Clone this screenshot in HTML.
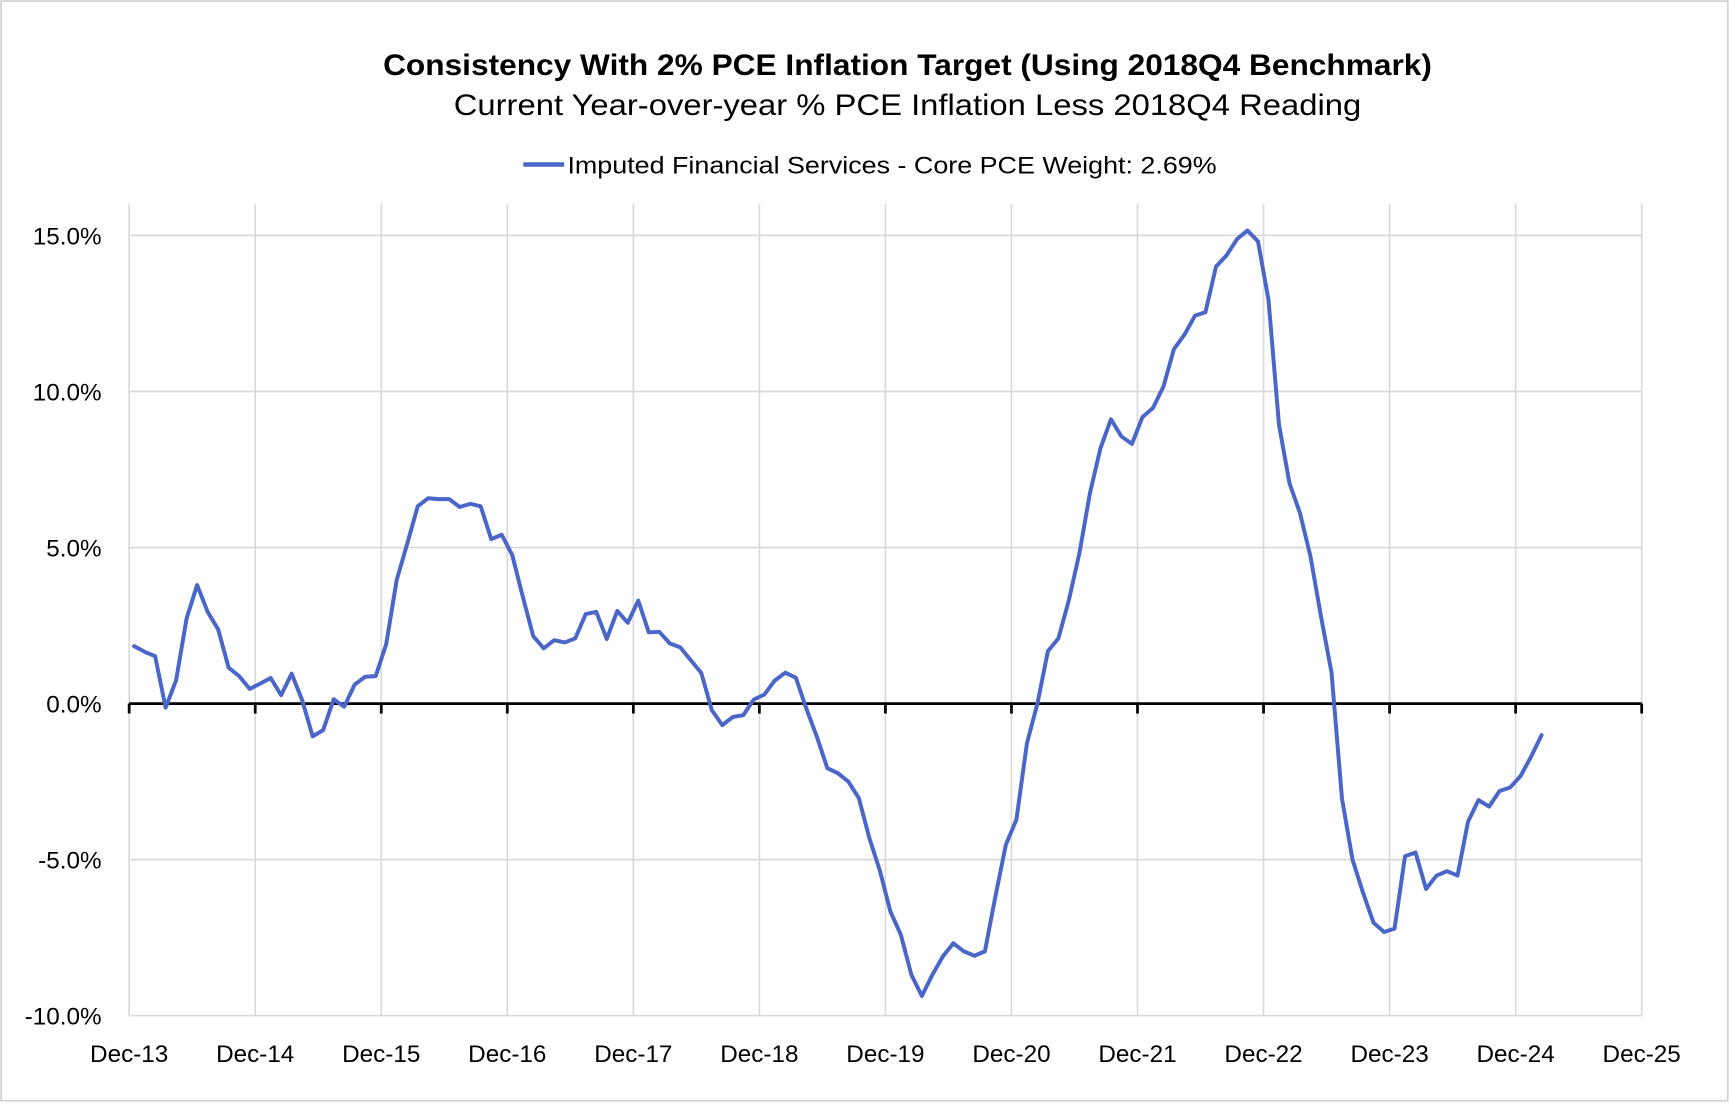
<!DOCTYPE html>
<html><head><meta charset="utf-8"><style>
html,body{margin:0;padding:0;background:#fff;}
svg{display:block;}
text{font-family:"Liberation Sans",sans-serif;fill:#000;}
</style></head><body>
<svg id="chart" width="1730" height="1104" viewBox="0 0 1567 1000" preserveAspectRatio="none" xmlns="http://www.w3.org/2000/svg">
<rect x="1" y="1" width="1564" height="996" fill="#fff" stroke="#d0d0d0" stroke-width="1.5"/>
<text x="822" y="68" text-anchor="middle" font-size="27" font-weight="bold" textLength="950" lengthAdjust="spacingAndGlyphs">Consistency With 2% PCE Inflation Target (Using 2018Q4 Benchmark)</text>
<text x="822" y="104" text-anchor="middle" font-size="27" textLength="822" lengthAdjust="spacingAndGlyphs">Current Year-over-year % PCE Inflation Less 2018Q4 Reading</text>
<g>
<line x1="474" y1="149" x2="511" y2="149" stroke="#4A66C8" stroke-width="4"/>
<text x="514" y="157" font-size="22" textLength="588" lengthAdjust="spacingAndGlyphs">Imputed Financial Services - Core PCE Weight: 2.69%</text>
</g>
<g id="grid"></g>
<g id="axes"></g>
<g id="series"></g>
</svg>
<script>
const xLabels = ["Dec-13","Dec-14","Dec-15","Dec-16","Dec-17","Dec-18","Dec-19","Dec-20","Dec-21","Dec-22","Dec-23","Dec-24","Dec-25"];
const yTicks = [-10, -5, 0, 5, 10, 15];
const yTickLabels = ["-10.0%","-5.0%","0.0%","5.0%","10.0%","15.0%"];
// monthly values, Jan-14 .. Mar-25
const values = [
1.84,1.66,1.52,-0.13,0.75,2.73,3.80,2.94,2.38,1.15,0.88,0.47,
0.64,0.82,0.27,0.96,0.11,-1.05,-0.85,0.14,-0.10,0.61,0.86,0.88,
1.90,3.96,5.12,6.32,6.58,6.55,6.55,6.30,6.40,6.32,5.27,5.41,
4.76,3.43,2.16,1.77,2.03,1.96,2.09,2.87,2.94,2.07,2.97,2.59,
3.30,2.28,2.30,1.93,1.80,1.39,0.98,-0.21,-0.69,-0.43,-0.37,0.13,
0.29,0.74,0.99,0.83,-0.16,-1.06,-2.07,-2.23,-2.50,-3.03,-4.31,-5.35,
-6.66,-7.41,-8.69,-9.37,-8.69,-8.10,-7.68,-7.94,-8.08,-7.94,-6.18,-4.52,
-3.72,-1.28,0.00,1.68,2.09,3.32,4.82,6.74,8.18,9.11,8.56,8.32,
9.18,9.47,10.16,11.36,11.82,12.43,12.54,14.00,14.36,14.88,15.16,14.81,
12.94,8.93,7.06,6.10,4.71,2.79,1.00,-3.05,-5.00,-6.06,-7.02,-7.32,
-7.21,-4.89,-4.77,-5.94,-5.51,-5.37,-5.51,-3.78,-3.09,-3.30,-2.80,-2.69,
-2.32,-1.70,-1.01
];
const NS="http://www.w3.org/2000/svg";
const X0=117, X1=1487, YTOP=185, YBOT=920, YMIN=-10, YMAX=16;
const monthW=(X1-X0)/((xLabels.length-1)*12);
function xScale(m){return X0+m*monthW;}
function yScale(v){return YBOT-(v-YMIN)/(YMAX-YMIN)*(YBOT-YTOP);}
function mk(tag,attrs,parent){const e=document.createElementNS(NS,tag);for(const k in attrs)e.setAttribute(k,attrs[k]);parent.appendChild(e);return e;}
const grid=document.getElementById('grid'), axes=document.getElementById('axes'), series=document.getElementById('series');
xLabels.forEach((lab,i)=>{
  const x=xScale(i*12);
  const g=mk('line',{x1:x,y1:YTOP,x2:x,y2:YBOT,stroke:'#d9d9d9','stroke-width':1.5},grid);
  
  
  const t=mk('text',{x:x,y:962,'text-anchor':'middle','font-size':22},axes);
  t.textContent=lab;
  
  
  const tk=mk('line',{x1:x,y1:yScale(0),x2:x,y2:yScale(0)+9,stroke:'#000','stroke-width':2.5},axes);
  
  
});
yTicks.forEach((v,i)=>{
  const y=yScale(v);
  if(v!==0){
    const g=mk('line',{x1:X0,y1:y,x2:X1,y2:y,stroke:'#d9d9d9','stroke-width':1.5},grid);
    
    
  }
  const t=mk('text',{x:92,y:y+8,'text-anchor':'end','font-size':22},axes);
  t.textContent=yTickLabels[i];
  
  
});
const zl=mk('line',{x1:X0,y1:yScale(0),x2:X1,y2:yScale(0),stroke:'#000','stroke-width':2.5},axes);


const pts=values.map((v,i)=>xScale(i+0.47).toFixed(2)+','+yScale(v).toFixed(2)).join(' ');
const pl=mk('polyline',{points:pts,fill:'none',stroke:'#4A66C8','stroke-width':3.6,'stroke-linejoin':'round','stroke-linecap':'round'},series);


</script>
</body></html>
